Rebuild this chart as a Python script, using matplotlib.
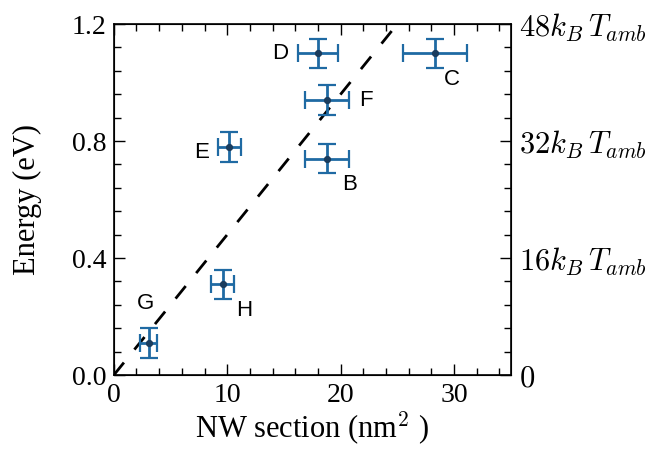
import matplotlib
matplotlib.use("Agg")
import matplotlib.pyplot as plt
from matplotlib.ticker import MultipleLocator, FixedLocator, FormatStrFormatter

plt.rcParams['mathtext.fontset'] = 'cm'
plt.rcParams['font.family'] = ['Liberation Serif', 'DejaVu Serif']

# Nanowire samples: cross-section (nm^2) vs activation energy (eV)
labels = ['B', 'C', 'D', 'E', 'F', 'G', 'H']
section = [18.8, 28.3, 18.0, 10.2, 18.8, 3.1, 9.6]
section_err = [1.9, 2.8, 1.8, 1.0, 1.9, 0.75, 1.0]
energy = [0.74, 1.10, 1.10, 0.78, 0.94, 0.11, 0.31]
energy_err = [0.05, 0.05, 0.05, 0.05, 0.05, 0.05, 0.05]

# Label anchor positions in data units
label_x = [20.8, 29.8, 14.7, 7.7, 22.2, 2.8, 11.5]
label_y = [0.65, 1.01, 1.10, 0.76, 0.94, 0.245, 0.22]

# Linear guide through origin
fit_slope = 0.048  # eV per nm^2
fit_x = [0.0, 35.0]

# Right axis: multiples of k_B T_amb (k_B T_amb = 0.025 eV)
kT = 0.025
right_ticks = [0, 16, 32, 48]
right_labels = ['$0$', '$16k_B\\,T_{amb}$', '$32k_B\\,T_{amb}$', '$48k_B\\,T_{amb}$']

fig = plt.figure(figsize=(6.54, 4.53), dpi=100)
ax = fig.add_axes([0.174, 0.172, 0.607, 0.775])

ax.plot(fit_x, [fit_slope * v for v in fit_x], ls=(0, (5.8, 6.0)), color='black',
        lw=2.0, solid_capstyle='butt', dash_capstyle='butt', zorder=1)

ax.errorbar(section, energy, xerr=section_err, yerr=energy_err, fmt='o',
            color='#1f6aa3', ecolor='#1f6aa3', elinewidth=2, capsize=6.3, capthick=1.6,
            markersize=4.2, markerfacecolor='#1b3d5e', markeredgecolor='#1b3d5e', zorder=3)

for lab, lx, ly in zip(labels, label_x, label_y):
    ax.text(lx, ly, lab, ha='center', va='center', fontsize=16,
            family=['Liberation Sans', 'DejaVu Sans'])

ax.set_xlim(0, 35)
ax.set_ylim(0, 1.2)
ax.xaxis.set_major_locator(MultipleLocator(10))
ax.xaxis.set_minor_locator(MultipleLocator(2))
ax.yaxis.set_major_locator(MultipleLocator(0.4))
ax.yaxis.set_minor_locator(MultipleLocator(0.08))
ax.yaxis.set_major_formatter(FormatStrFormatter('%.1f'))
ax.tick_params(which='both', direction='in', top=True, right=False, labelsize=20)
ax.tick_params(which='major', length=8, width=1)
ax.tick_params(which='minor', length=5, width=1)
ax.tick_params(axis='x', pad=6)
ax.tick_params(axis='y', pad=5)
ax.set_xlabel('NW section (nm$^2$ )', fontsize=22, labelpad=1)
ax.set_ylabel('Energy (eV)', fontsize=22, labelpad=22)
for s in ax.spines.values():
    s.set_linewidth(1.2)

ax2 = ax.twinx()
ax2.set_ylim(0, 1.2)
ax2.yaxis.set_major_locator(FixedLocator([t * kT for t in right_ticks]))
ax2.set_yticklabels(right_labels)
ax2.yaxis.set_minor_locator(MultipleLocator(0.08))
ax2.tick_params(which='both', direction='in', labelsize=22, pad=6)
ax2.tick_params(which='major', length=8, width=1)
ax2.tick_params(which='minor', length=5, width=1)

fig.savefig('out.png', dpi=100)
